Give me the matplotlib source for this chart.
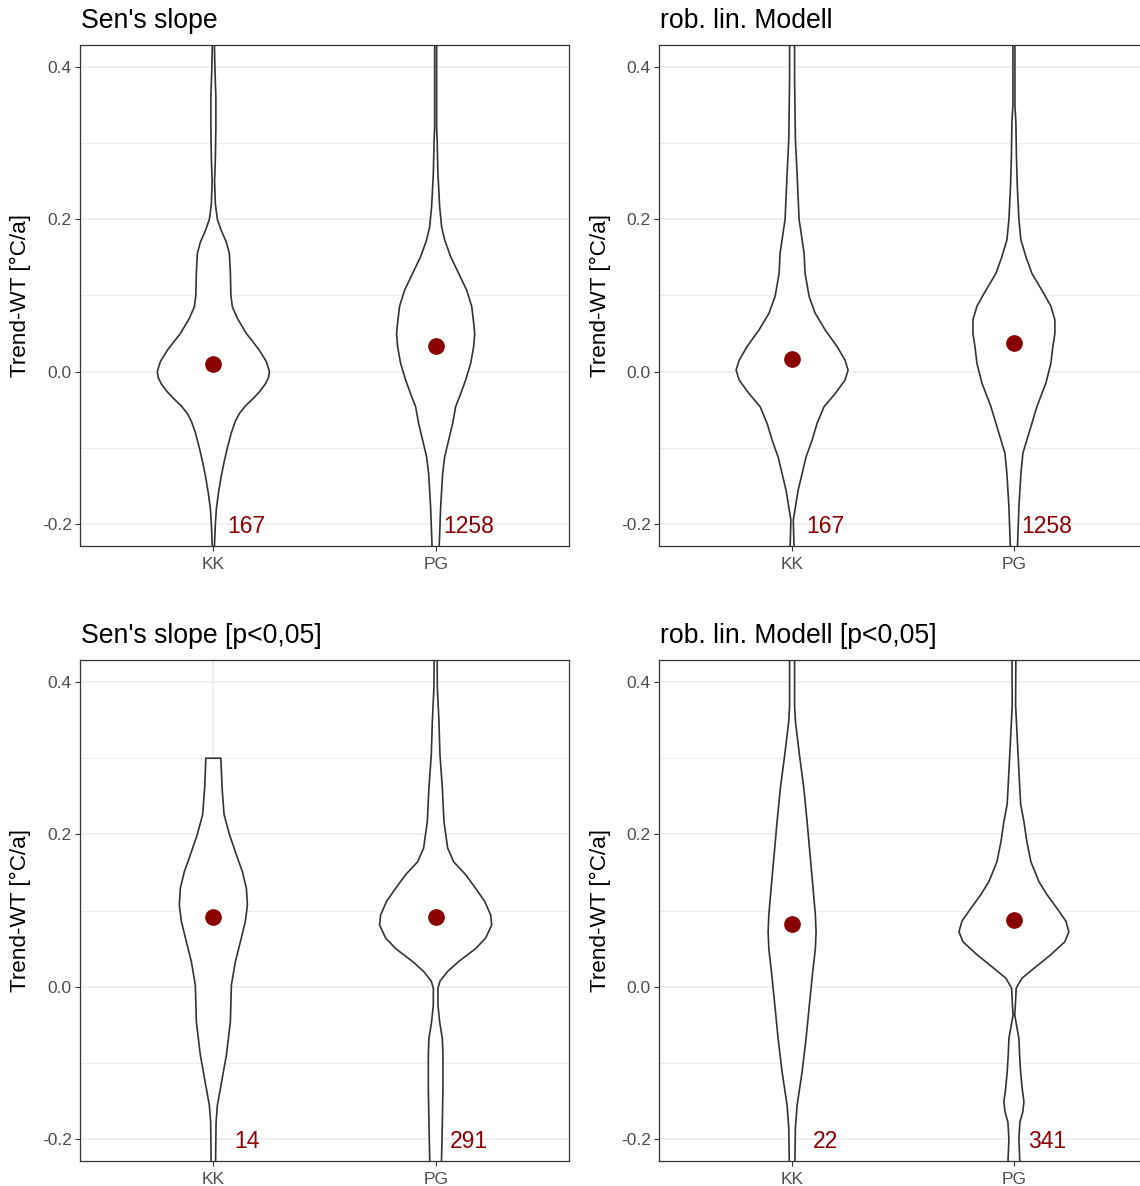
import numpy as np
import matplotlib
matplotlib.use("Agg")
import matplotlib.pyplot as plt

plt.rcParams['font.family'] = ['Liberation Sans', 'DejaVu Sans']

# ---- data ----
groups = ["KK", "PG"]
titles = ["Sen's slope", "rob. lin. Modell", "Sen's slope [p<0,05]", "rob. lin. Modell [p<0,05]"]

# violin profiles: y value and relative density (half width, arbitrary units)
sen_kk_y = [0.45, 0.432, 0.40, 0.36, 0.32, 0.28, 0.25, 0.22, 0.20, 0.185, 0.17, 0.155, 0.13, 0.10,
            0.085, 0.07, 0.05, 0.04, 0.028, 0.013, 0.0, -0.008, -0.016, -0.025, -0.035, -0.045, -0.055,
            -0.065, -0.08, -0.10, -0.12, -0.14, -0.16, -0.18, -0.20, -0.232, -0.25]
sen_kk_d = [1, 1, 1.5, 2.5, 2.5, 2, 1.2, 2, 4, 8, 13, 16, 17, 17.5,
            19, 24, 33, 39, 46, 53, 56, 55, 52, 47, 40, 32, 26,
            22, 18, 14, 10.5, 7.5, 5, 3, 2, 1, 1]
sen_pg_y = [0.45, 0.32, 0.305, 0.26, 0.217, 0.19, 0.173, 0.151, 0.129, 0.107, 0.086, 0.064, 0.05,
            0.033, 0.011, -0.011, -0.029, -0.046, -0.068, -0.09, -0.112, -0.134, -0.178, -0.232, -0.25]
sen_pg_d = [1, 1, 1.5, 2.3, 4, 6, 9, 15, 23, 31, 36, 38, 39,
            38, 35, 30, 25, 20, 17, 13, 9, 7, 5, 3.5, 3.5]

rob_kk_y = [0.45, 0.384, 0.305, 0.26, 0.2, 0.156, 0.129, 0.099, 0.077, 0.055, 0.033, 0.015, 0.002,
            -0.011, -0.029, -0.046, -0.068, -0.09, -0.112, -0.134, -0.156, -0.178, -0.195, -0.232, -0.25]
rob_kk_d = [2.5, 2.5, 3.3, 5, 7, 12, 13, 17, 23, 33, 45, 53, 56,
            53, 43, 32, 25, 20, 14, 10, 6, 3.3, 1.2, 2, 2]
rob_pg_y = [0.45, 0.35, 0.327, 0.283, 0.24, 0.2, 0.173, 0.151, 0.129, 0.107, 0.086, 0.068, 0.05,
            0.033, 0.011, -0.015, -0.046, -0.081, -0.107, -0.134, -0.178, -0.232, -0.25]
rob_pg_d = [1, 1, 2, 2.5, 3.5, 5, 7, 12, 18, 28, 37, 41, 41,
            39, 37, 32, 23, 15, 9, 7, 5, 3.5, 3.5]

senp_kk_y = [0.3, 0.261, 0.226, 0.2, 0.173, 0.151, 0.129, 0.107, 0.086, 0.059, 0.033, 0.002,
             -0.046, -0.068, -0.09, -0.112, -0.134, -0.156, -0.178, -0.232, -0.25]
senp_kk_d = [7.5, 8.7, 10.7, 16, 23, 29, 33, 34, 32, 27, 22, 18,
             17, 15, 13, 10, 7, 4, 2.7, 2.2, 2.2]
senp_pg_y = [0.45, 0.43, 0.393, 0.349, 0.305, 0.261, 0.217, 0.182, 0.164, 0.147, 0.129, 0.112, 0.094,
             0.081, 0.064, 0.05, 0.033, 0.02, 0.007, -0.002, -0.024, -0.046, -0.068, -0.09, -0.134,
             -0.178, -0.232, -0.25]
senp_pg_d = [1.5, 1.5, 1.7, 3.3, 4.3, 6.7, 8.3, 12, 18, 30, 40, 49, 55,
             56, 50, 40, 23, 12, 4.3, 2.3, 2.3, 4, 6.7, 7.3, 7.3,
             6.7, 5.8, 5.8]

robp_kk_y = [0.45, 0.37, 0.349, 0.305, 0.261, 0.217, 0.173, 0.129, 0.094, 0.072, 0.05, 0.02,
             -0.024, -0.068, -0.112, -0.156, -0.186, -0.232, -0.25]
robp_kk_d = [2.5, 2.5, 3.3, 7.3, 11.7, 15, 18, 21, 23.3, 24, 23.3, 20.7,
             17.3, 14, 10, 5, 3.3, 2.8, 2.8]
robp_pg_y = [0.45, 0.37, 0.327, 0.283, 0.24, 0.217, 0.19, 0.164, 0.138, 0.121, 0.103, 0.086, 0.072,
             0.059, 0.042, 0.024, 0.011, -0.002, -0.024, -0.037, -0.068, -0.09, -0.112, -0.134,
             -0.151, -0.164, -0.178, -0.2, -0.232, -0.25]
robp_pg_d = [2, 1.7, 3.3, 5, 6.7, 10, 13, 17, 25, 33, 43, 52, 55,
             51, 37, 20, 8, 2.3, 1.5, 0.8, 5, 5.7, 6.7, 8.3,
             10, 9, 6, 5, 6, 6]

medians = [[0.0105, 0.034], [0.017, 0.037], [0.091, 0.092], [0.082, 0.088]]
counts = [[167, 1258], [167, 1258], [14, 291], [22, 341]]

profiles = [
    [(sen_kk_y, sen_kk_d), (sen_pg_y, sen_pg_d)],
    [(rob_kk_y, rob_kk_d), (rob_pg_y, rob_pg_d)],
    [(senp_kk_y, senp_kk_d), (senp_pg_y, senp_pg_d)],
    [(robp_kk_y, robp_kk_d), (robp_pg_y, robp_pg_d)],
]

# ---- figure ----
W, H = 1140, 1186
fig = plt.figure(figsize=(W / 100, H / 100), dpi=100)
fig.patch.set_facecolor('white')

boxes = [(80, 45, 569, 546), (659, 45, 1147, 546),
         (80, 660, 569, 1161), (659, 660, 1147, 1161)]

dens_scale = 1 / 222.0
line_col = '#333333'

for i, (l, t, r, b) in enumerate(boxes):
    ax = fig.add_axes([l / W, 1 - b / H, (r - l) / W, (b - t) / H])
    ax.set_xlim(0.4, 2.6)
    ax.set_ylim(-0.229, 0.429)

    ax.set_yticks([-0.2, 0.0, 0.2, 0.4])
    ax.set_yticklabels(['-0.2', '0.0', '0.2', '0.4'])
    ax.set_yticks([-0.1, 0.1, 0.3], minor=True)
    ax.set_xticks([1, 2])
    ax.set_xticklabels(groups)
    ax.grid(which='major', color='#EBEBEB', lw=1.1)
    ax.grid(which='minor', axis='y', color='#EBEBEB', lw=0.6)
    ax.set_axisbelow(True)
    ax.tick_params(which='major', length=3.5, width=0.8, color=line_col,
                   labelcolor='#4D4D4D', labelsize=12.5, pad=2.5)
    ax.tick_params(axis='x', pad=4.5)
    ax.tick_params(which='minor', length=0)
    for sp in ax.spines.values():
        sp.set_color(line_col)
        sp.set_linewidth(0.9)

    for j, (yy, dd) in enumerate(profiles[i]):
        yy = np.array(yy)
        hw = np.array(dd) * dens_scale
        xs = np.concatenate([(j + 1) + hw, ((j + 1) - hw)[::-1]])
        ys = np.concatenate([yy, yy[::-1]])
        ax.fill(xs, ys, facecolor='white', edgecolor=line_col, lw=1.2, zorder=2)
        ax.plot(j + 1, medians[i][j], 'o', color='#8B0000', ms=11, zorder=3)
        ax.text(j + 1.15, -0.2, str(counts[i][j]), color='#8B0000', fontsize=16.5,
                ha='center', va='center_baseline', zorder=4)

    ax.text(-0.121, 0.5, 'Trend-WT [°C/a]', transform=ax.transAxes, rotation=90,
            ha='center', va='center', fontsize=16.2, color='black')
    ax.annotate(titles[i], xy=(0, 1), xycoords='axes fraction', xytext=(1, 17),
                textcoords='offset pixels', ha='left', va='baseline', fontsize=19.2)

fig.savefig('out.png', dpi=100)
